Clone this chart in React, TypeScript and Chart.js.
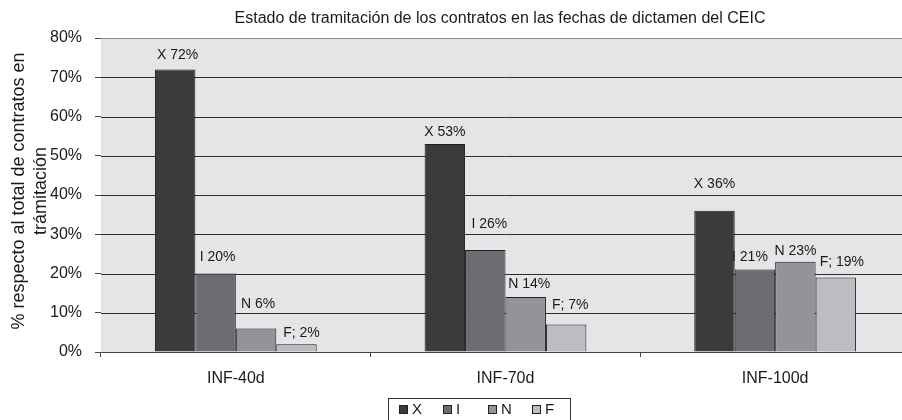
import React, { useEffect, useRef } from "react";
import { Chart, registerables } from "chart.js";

Chart.register(...registerables);

const categories = ["INF-40d", "INF-70d", "INF-100d"];
const seriesNames = ["X", "I", "N", "F"];
const valuesX = [72, 53, 36];
const valuesI = [20, 26, 21];
const valuesN = [6, 14, 23];
const valuesF = [2, 7, 19];
const labelsX = ["X 72%", "X 53%", "X 36%"];
const labelsI = ["I 20%", "I 26%", "I 21%"];
const labelsN = ["N 6%", "N 14%", "N 23%"];
const labelsF = ["F; 2%", "F; 7%", "F; 19%"];
const yMin = 0;
const yMax = 80;
const yStep = 10;
const chartTitle = "Estado de tramitación de los contratos en las fechas de dictamen del CEIC";
const yTitleLines = ["% respecto al total de contratos en", "trámitación"];

const FONT = '"Liberation Sans", Arial, Helvetica, sans-serif';
const colors = ["#3b3b3b", "#6c6d70", "#939497", "#bcbdc0"];

// label placement tweaks (dx, dy above bar top) per series per category
const labelOffsets = [
  [[2.5, 14], [0, 12], [0, 27]],
  [[2, 16], [4, 26], [-5, 12]],
  [[2, 24], [3.5, 13], [0, 11]],
  [[5, 11], [4, 19], [6, 15]],
];

const customPlugin = {
  id: "customDraw",
  beforeDatasetsDraw(chart: any) {
    const { ctx, chartArea } = chart;
    const yScale = chart.scales.y;
    ctx.save();
    ctx.fillStyle = "#e4e5e7";
    ctx.fillRect(chartArea.left, chartArea.top, chartArea.right - chartArea.left, chartArea.bottom - chartArea.top);
    ctx.lineWidth = 1;
    yScale.ticks.forEach((t: any) => {
      if (t.value === yMin) return;
      const y = Math.round(yScale.getPixelForValue(t.value)) + 0.5;
      ctx.strokeStyle = t.value === yMax ? "#8c8c8c" : "#2e2e2e";
      ctx.beginPath();
      ctx.moveTo(chartArea.left, y);
      ctx.lineTo(chartArea.right, y);
      ctx.stroke();
    });
    ctx.restore();
  },
  afterDraw(chart: any) {
    const { ctx, chartArea } = chart;
    ctx.save();
    ctx.fillStyle = "#1a1a1a";
    // Title
    ctx.font = `16px ${FONT}`;
    ctx.textAlign = "center";
    ctx.textBaseline = "middle";
    ctx.fillText(chartTitle, 500, 19);

    // Y axis title
    ctx.save();
    ctx.translate(0, (chartArea.top + chartArea.bottom) / 2 - 4);
    ctx.rotate(-Math.PI / 2);
    ctx.font = `18px ${FONT}`;
    ctx.textAlign = "center";
    ctx.textBaseline = "middle";
    ctx.fillText(yTitleLines[0], 0, 19);
    ctx.fillText(yTitleLines[1], 0, 41);
    ctx.restore();

    // Data labels
    const allLabels = [labelsX, labelsI, labelsN, labelsF];
    ctx.font = `14px ${FONT}`;
    ctx.textAlign = "center";
    ctx.textBaseline = "middle";
    chart.data.datasets.forEach((ds: any, i: number) => {
      const meta = chart.getDatasetMeta(i);
      meta.data.forEach((bar: any, j: number) => {
        const [dx, dy] = labelOffsets[i][j];
        ctx.fillText(allLabels[i][j], bar.x + dx, bar.y - dy);
      });
    });

    // Legend
    const boxL = 388, boxR = 570, boxT = 398.5;
    ctx.strokeStyle = "#333";
    ctx.lineWidth = 1;
    ctx.strokeRect(boxL + 0.5, boxT, boxR - boxL, 40);
    ctx.font = `15px ${FONT}`;
    ctx.textAlign = "left";
    ctx.textBaseline = "middle";
    const pitch = 44.3;
    seriesNames.forEach((name, i) => {
      const sx = Math.round(399 + i * pitch);
      ctx.fillStyle = colors[i];
      ctx.fillRect(sx, 405, 8, 8);
      ctx.strokeStyle = "#222";
      ctx.strokeRect(sx + 0.5, 405.5, 8, 8);
      ctx.fillStyle = "#1a1a1a";
      ctx.fillText(name, sx + 13, 410);
    });
    ctx.restore();
  },
};

export default function App() {
  const canvasRef = useRef<HTMLCanvasElement | null>(null);

  useEffect(() => {
    const canvas = canvasRef.current;
    if (!canvas) return;
    const seriesValues = [valuesX, valuesI, valuesN, valuesF];
    const chart = new Chart(canvas, {
      type: "bar",
      data: {
        labels: categories,
        datasets: seriesNames.map((name, i) => ({
          label: name,
          data: seriesValues[i],
          backgroundColor: colors[i],
          borderColor: "#1f1f1f",
          borderWidth: 1,
          categoryPercentage: 0.6,
          barPercentage: 1.0,
        })),
      },
      options: {
        responsive: false,
        animation: false,
        devicePixelRatio: 1,
        layout: { padding: { top: 38, left: 0, right: 0, bottom: 0 } },
        plugins: {
          legend: { display: false },
          title: { display: false },
          tooltip: { enabled: false },
        },
        scales: {
          x: {
            offset: true,
            grid: {
              display: true,
              drawOnChartArea: false,
              drawTicks: true,
              tickLength: 5,
              offset: true,
              color: "#444",
            },
            border: { display: true, color: "#444", width: 1 },
            ticks: {
              color: "#1a1a1a",
              font: { family: FONT, size: 16 },
              padding: 12,
              maxRotation: 0,
            },
            afterFit: (scale: any) => {
              scale.height = 68;
            },
          },
          y: {
            min: yMin,
            max: yMax,
            ticks: {
              stepSize: yStep,
              color: "#1a1a1a",
              font: { family: FONT, size: 16 },
              padding: 13,
              callback: (v: any) => `${v}%`,
            },
            grid: {
              display: true,
              drawOnChartArea: false,
              color: "#444",
              tickColor: "#444",
              lineWidth: 1,
              tickLength: 6,
              drawTicks: true,
            },
            border: { display: true, color: "#666", width: 1 },
            afterFit: (scale: any) => {
              scale.width = 101;
            },
          },
        },
      },
      plugins: [customPlugin],
    });
    return () => chart.destroy();
  }, []);

  return (
    <div style={{ position: "absolute", left: 0, top: 0, width: 902, height: 420, overflow: "hidden", background: "#fff" }}>
      <canvas ref={canvasRef} width={910} height={420} style={{ display: "block", width: 910, height: 420 }} />
    </div>
  );
}
